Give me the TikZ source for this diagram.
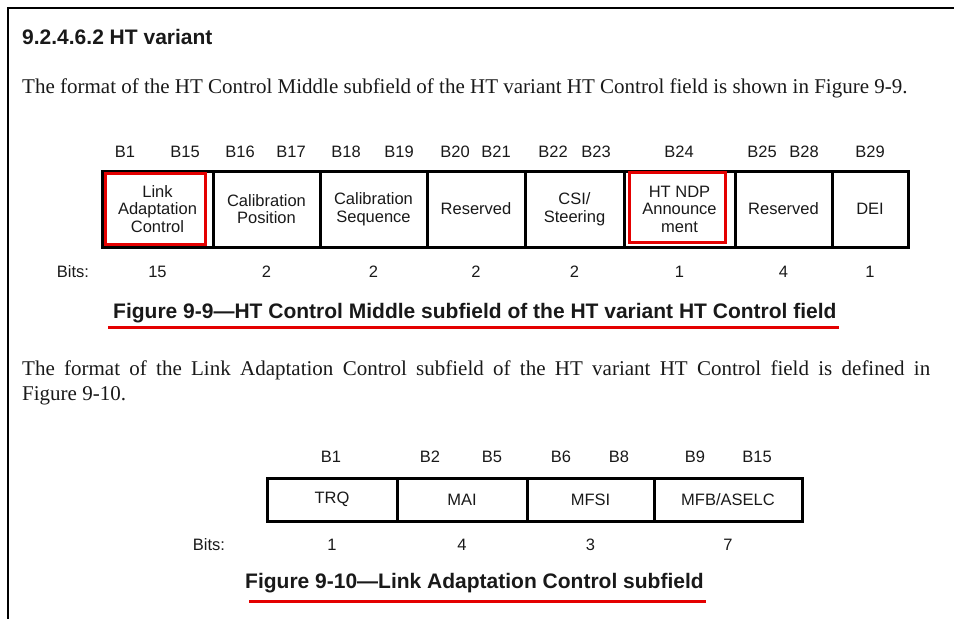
\documentclass[tikz,border=0pt]{standalone}
\usepackage{fontspec}
\setmainfont{Liberation Serif}
\setsansfont{Liberation Sans}
\usetikzlibrary{positioning}

\definecolor{ink}{RGB}{25,25,25}
\definecolor{marker}{RGB}{228,0,0}

\newcommand{\fieldfont}{\sffamily\fontsize{16.5}{17.5}\selectfont}
\newcommand{\capfont}{\sffamily\bfseries\fontsize{21}{24}\selectfont}
\newcommand{\bodyfont}{\rmfamily\fontsize{21}{25}\selectfont}

\begin{document}
\begin{tikzpicture}[x=1pt,y=-1pt,
  field/.style={draw=black,line width=3pt,inner sep=0pt,align=center,text=ink,font=\fieldfont},
  bitlbl/.style={anchor=base,inner sep=0pt,text=ink,font=\fieldfont},
  bodytext/.style={anchor=base west,inner sep=0pt,text=ink,font=\bodyfont},
  caption/.style={anchor=base west,inner sep=0pt,text=ink,font=\capfont},
  hilite/.style={draw=marker,line width=3pt},
  underline/.style={draw=marker,line width=3pt}]

\useasboundingbox (0,0) rectangle (954,619);
\draw[line width=2.8pt] (8,619) -- (8,8) -- (954,8);

\node[caption] (title) at (22,44) {9.2.4.6.2 HT variant};
\node[bodytext] (intro) at (22,93) {The format of the HT Control Middle subfield of the HT variant HT Control field is shown in Figure 9-9.};

% Figure 9-9
\foreach \lbl/\xa in {B1/125,B15/185,B16/240,B17/291,B18/346,B19/399,B20/455,B21/496,
                      B22/553,B23/596,B24/679,B25/762,B28/804,B29/870}{
  \node[bitlbl] (mid-\lbl) at (\xa,157) {\lbl};
}
\foreach \name/\lft/\rgt/\txt/\bits in {lac/102/213/{Link\\Adaptation\\Control}/15,
    calpos/213/320/{Calibration\\Position}/2, calseq/320/427/{Calibration\\Sequence}/2,
    resa/427/525/Reserved/2, csi/525/624/{CSI/\\Steering}/2,
    ndp/624/735/{HT NDP\\Announce\\ment}/1, resb/735/832/Reserved/4, dei/832/908/DEI/1}{
  \node[field,minimum width={(\rgt-\lft)*1pt},minimum height=76pt] (\name) at ({(\lft+\rgt)/2},209) {\txt};
  \node[bitlbl] (\name-bits) at ({(\lft+\rgt)/2},277) {\bits};
}
\node[bitlbl] (mid-bits) at (73,277) {Bits:};

\draw[hilite] ([shift={(5,4)}]lac.north west) rectangle ([shift={(-9,-4)}]lac.south east);
\draw[hilite] ([shift={(6.5,3)}]ndp.north west) rectangle ([shift={(-11,-6)}]ndp.south east);

\node[caption] (cap-mid) at (113,318) {Figure 9-9---HT Control Middle subfield of the HT variant HT Control field};
\draw[underline] ([shift={(-5,9)}]cap-mid.base west) -- ([shift={(2,9)}]cap-mid.base east);

\node[bodytext] (para) at (22,375) {\makebox[908pt][s]{The format of the Link Adaptation Control subfield of the HT variant HT Control field is defined in}};
\node[bodytext] (para-b) at (22,400) {Figure 9-10.};

% Figure 9-10
\foreach \lbl/\xa in {B1/331,B2/430,B5/492,B6/561,B8/619,B9/695,B15/757}{
  \node[bitlbl] (lac-\lbl) at (\xa,462) {\lbl};
}
\foreach \name/\lft/\rgt/\txt/\bits in {trq/267/397/TRQ/1, mai/397/527/MAI/4,
    mfsi/527/654/MFSI/3, mfb/654/802/{MFB/ASELC}/7}{
  \node[field,minimum width={(\rgt-\lft)*1pt},minimum height=43pt] (\name) at ({(\lft+\rgt)/2},499.5) {\txt};
  \node[bitlbl] (\name-bits) at ({(\lft+\rgt)/2},550) {\bits};
}
\node[bitlbl] (lac-bits) at (209,550) {Bits:};

\node[caption] (cap-lac) at (245,588) {Figure 9-10---Link Adaptation Control subfield};
\draw[underline] ([shift={(4,13)}]cap-lac.base west) -- ([shift={(2,13)}]cap-lac.base east);

\end{tikzpicture}
\end{document}
